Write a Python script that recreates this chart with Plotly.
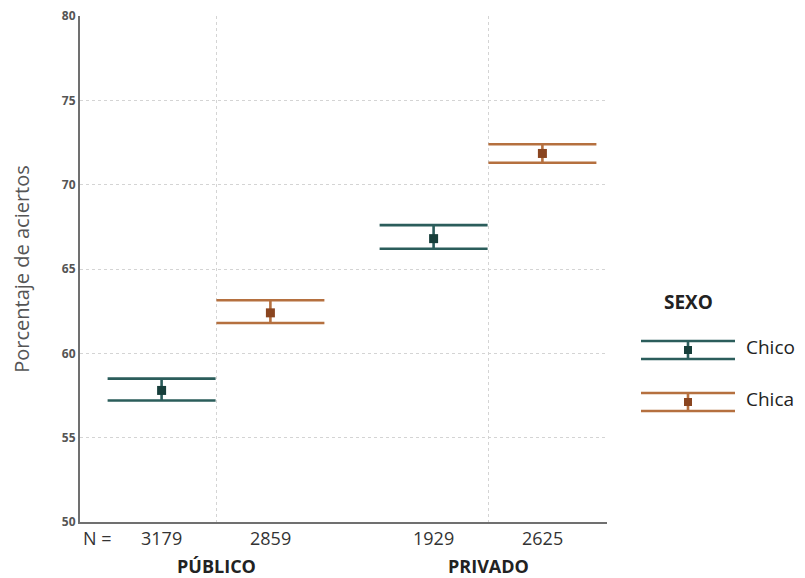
import plotly.graph_objects as go

groups = ["PÚBLICO", "PRIVADO"]
group_pos = [1, 2]
sexes = ["Chico", "Chica"]
offsets = [-0.2, 0.2]
n_chico = [3179, 1929]
n_chica = [2859, 2625]
mean_chico = [57.8, 66.8]
low_chico = [57.2, 66.2]
high_chico = [58.5, 67.6]
mean_chica = [62.4, 71.85]
low_chica = [61.8, 71.3]
high_chica = [63.15, 72.4]
line_colors = {"Chico": "#2b5d5b", "Chica": "#b5703f"}
marker_colors = {"Chico": "#173f3b", "Chica": "#8a4520"}
y_ticks = [50, 55, 60, 65, 70, 75, 80]

fig = go.Figure()
series = {
    "Chico": (mean_chico, low_chico, high_chico, n_chico),
    "Chica": (mean_chica, low_chica, high_chica, n_chica),
}
for s, off in zip(sexes, offsets):
    m, lo, hi, n = series[s]
    xs = [g + off for g in group_pos]
    fig.add_trace(go.Scatter(
        x=xs, y=m, mode="markers", name=s, showlegend=False,
        marker=dict(symbol="square", size=9, color=marker_colors[s]),
        error_y=dict(type="data", symmetric=False,
                     array=[h - v for h, v in zip(hi, m)],
                     arrayminus=[v - l for v, l in zip(m, lo)],
                     color=line_colors[s], thickness=2.6, width=54),
    ))
    for x, v in zip(xs, n):
        fig.add_annotation(x=x, y=0, xref="x", yref="paper", yshift=-16,
                           yanchor="middle", text=str(v), showarrow=False,
                           font=dict(size=18, color="#333"))

fig.update_layout(
    width=805, height=578,
    margin=dict(l=72, r=206, t=8, b=64, autoexpand=False),
    paper_bgcolor="white", plot_bgcolor="white",
    font=dict(family="Open Sans, Noto Sans, sans-serif", color="#333"),
    xaxis=dict(range=[0.5, 2.4375], tickvals=group_pos, showticklabels=False,
               showgrid=True, gridcolor="#d4d4d4", griddash="dot", gridwidth=1,
               zeroline=False, showline=True, linecolor="#707070", automargin=False,
               linewidth=2, ticks=""),
    yaxis=dict(range=[50, 80], tickvals=y_ticks,
               ticktext=[f"<b>{v}</b>" for v in y_ticks],
               ticklabeloverflow="allow",
               showgrid=True, gridcolor="#d4d4d4",
               griddash="dot", gridwidth=1, zeroline=False, showline=True,
               linecolor="#707070", linewidth=2, ticks="", automargin=False,
               tickfont=dict(size=12, color="#555"),
               title=dict(text="Porcentaje de aciertos",
                          font=dict(size=20, color="#555"), standoff=34)),
)

# group labels and N =
for g, p in zip(groups, group_pos):
    fig.add_annotation(x=p, y=0, xref="x", yref="paper", yshift=-44,
                       yanchor="middle", text=f"<b>{g}</b>", showarrow=False,
                       font=dict(size=18, color="#222"))
fig.add_annotation(x=0.5, y=0, xref="x", yref="paper", xshift=17, yshift=-16,
                   yanchor="middle", text="N =", showarrow=False,
                   font=dict(size=18, color="#333"))

# custom legend (positions relative to plot area, in screen px)
W, H = 527, 506
def px(xs):
    return (xs - 80) / W
def py(ys):
    return (522 - ys) / H
fig.add_annotation(x=px(688), y=py(302), xref="paper", yref="paper",
                   xanchor="center", yanchor="middle",
                   text="<b>SEXO</b>", showarrow=False, font=dict(size=19, color="#222"))
for s, yc in zip(sexes, [350, 402]):
    for dy in (-9, 9):
        fig.add_shape(type="line", xref="paper", yref="paper",
                      x0=px(641), x1=px(735), y0=py(yc + dy), y1=py(yc + dy),
                      line=dict(color=line_colors[s], width=2.6))
    fig.add_shape(type="line", xref="paper", yref="paper",
                  x0=px(688), x1=px(688), y0=py(yc - 9), y1=py(yc + 9),
                  line=dict(color=line_colors[s], width=2.6))
    fig.add_shape(type="rect", xref="paper", yref="paper",
                  x0=px(684), x1=px(692), y0=py(yc - 4), y1=py(yc + 4),
                  fillcolor=marker_colors[s], line=dict(width=0))
    fig.add_annotation(x=px(744), y=py(yc - 3), xref="paper", yref="paper",
                       xanchor="left", yanchor="middle", text=s, showarrow=False,
                       font=dict(size=19, color="#222"))

fig.write_html("out.html")
